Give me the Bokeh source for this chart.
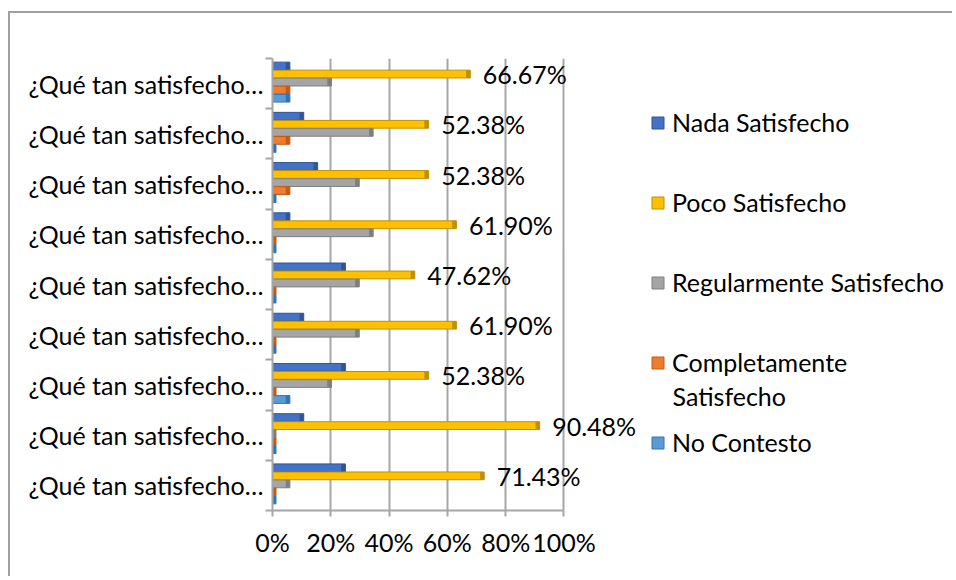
from bokeh.plotting import figure
from bokeh.models import (ColumnDataSource, Legend, LegendItem, FixedTicker,
                          Range1d, LabelSet, Label)
from bokeh.embed import file_html
from bokeh.resources import INLINE
from bokeh.core.properties import value

# ---- data (categories listed bottom -> top, as Excel plots them) ----
question_labels = ["¿Qué tan satisfecho…"] * 9
nada = [23.81, 9.52, 23.81, 9.52, 23.81, 4.76, 14.29, 9.52, 4.76]
poco = [71.43, 90.48, 52.38, 61.90, 47.62, 61.90, 52.38, 52.38, 66.67]
regular = [4.76, 0.0, 19.05, 28.57, 28.57, 33.33, 28.57, 33.33, 19.05]
completamente = [0.0, 0.0, 0.0, 0.0, 0.0, 0.0, 4.76, 4.76, 4.76]
no_contesto = [0.0, 0.0, 4.76, 0.0, 0.0, 0.0, 0.0, 0.0, 4.76]
series_names = ["Nada Satisfecho", "Poco Satisfecho", "Regularmente Satisfecho",
                "Completamente Satisfecho", "No Contesto"]
x_ticks = [0, 20, 40, 60, 80, 100]
x_tick_labels = ["0%", "20%", "40%", "60%", "80%", "100%"]

# ---- styling ----
FONT = "Lato"
FS = "25px"
colors = ["#4472C4", "#FFC000", "#A5A5A5", "#ED7D31", "#5B9BD5"]
edges = ["#2F5597", "#BF9000", "#7F7F7F", "#C55A11", "#2E75B6"]
offsets = [0.35, 0.19, 0.03, -0.13, -0.29]
bar_h = 0.155
cap = 1.2          # depth of the darker bar end (3-D look)
GRID = "#a6a6a6"
X_END = 234        # frame runs under the value labels and the legend

n = len(question_labels)
centers = [i + 0.5 for i in range(n)]
bounds = [float(i) for i in range(n + 1)]

p = figure(width=944, height=565, output_backend="svg", toolbar_location=None,
           x_range=Range1d(0, X_END), y_range=Range1d(0, n),
           min_border_left=262, min_border_right=0,
           min_border_top=45, min_border_bottom=68,
           styles={"border-left": "2px solid #a0a0a0",
                   "border-top": "2px solid #a0a0a0",
                   "margin-top": "11px", "margin-left": "8px"})
p.outline_line_color = None
p.background_fill_color = "white"

all_series = [nada, poco, regular, completamente, no_contesto]
renderers = []
for vals, col, edge, off in zip(all_series, colors, edges, offsets):
    ys = [c + off for c in centers]
    src = ColumnDataSource(dict(y=ys, right=vals))
    r = p.hbar(y="y", left=0, right="right", height=bar_h, source=src,
               fill_color=col, line_color=edge, line_width=1)
    renderers.append(r)
    cap_src = ColumnDataSource(dict(y=ys, left=vals, right=[v + cap for v in vals]))
    p.hbar(y="y", left="left", right="right", height=bar_h, source=cap_src,
           fill_color=edge, line_color=edge, line_width=1)

# value labels for "Poco Satisfecho"
lab_src = ColumnDataSource(dict(x=poco, y=[c + offsets[1] for c in centers],
                                text=[f"{v:.2f}%" for v in poco]))
labels = LabelSet(x="x", y="y", text="text", source=lab_src, x_offset=16,
                  text_baseline="middle", text_font=value(FONT),
                  text_font_size=FS, text_color="black")
p.add_layout(labels)

# grid
p.xgrid.ticker = FixedTicker(ticks=x_ticks)
p.xgrid.grid_line_color = GRID
p.xgrid.grid_line_width = 2
p.ygrid.visible = False

# x axis
p.xaxis.ticker = FixedTicker(ticks=x_ticks)
p.xaxis.bounds = (x_ticks[0], x_ticks[-1])
p.xaxis.major_label_overrides = {t: l for t, l in zip(x_ticks, x_tick_labels)}
p.xaxis.axis_line_color = GRID
p.xaxis.axis_line_width = 2
p.xaxis.major_tick_line_color = GRID
p.xaxis.major_tick_line_width = 2
p.xaxis.major_tick_in = 0
p.xaxis.major_tick_out = 6
p.xaxis.minor_tick_line_color = None
p.xaxis.major_label_standoff = 10
p.xaxis.major_label_text_font = FONT
p.xaxis.major_label_text_font_size = FS
p.xaxis.major_label_text_color = "black"

# y axis
p.yaxis.ticker = FixedTicker(ticks=centers, minor_ticks=bounds)
p.yaxis.major_label_overrides = {c: l for c, l in zip(centers, question_labels)}
p.yaxis.axis_line_color = GRID
p.yaxis.axis_line_width = 2
p.yaxis.major_tick_line_color = None
p.yaxis.minor_tick_line_color = GRID
p.yaxis.minor_tick_line_width = 2
p.yaxis.minor_tick_in = 0
p.yaxis.minor_tick_out = 7
p.yaxis.major_label_standoff = 2
p.yaxis.major_label_text_font = FONT
p.yaxis.major_label_text_font_size = FS
p.yaxis.major_label_text_color = "black"

# legend: the long entry wraps onto a second line, as in the original
legend_labels = [nm.split(" ")[0] if nm.startswith("Completamente") else nm
                 for nm in series_names]
legend = Legend(items=[LegendItem(label=lb, renderers=[r])
                       for lb, r in zip(legend_labels, renderers)],
                location=(378, 52), orientation="vertical",
                glyph_width=15, glyph_height=15, label_standoff=7,
                label_height=32, spacing=48, padding=0, margin=0,
                border_line_color=None, background_fill_alpha=0,
                label_text_font=FONT, label_text_font_size=FS,
                label_text_color="black")
p.add_layout(legend, "center")
wrap = Label(x=400, y=115, x_units="screen", y_units="screen",
             text=series_names[3].split(" ", 1)[1], text_baseline="middle",
             text_font=FONT, text_font_size=FS, text_color="black")
p.add_layout(wrap)

open("out.html", "w").write(file_html(p, INLINE))
